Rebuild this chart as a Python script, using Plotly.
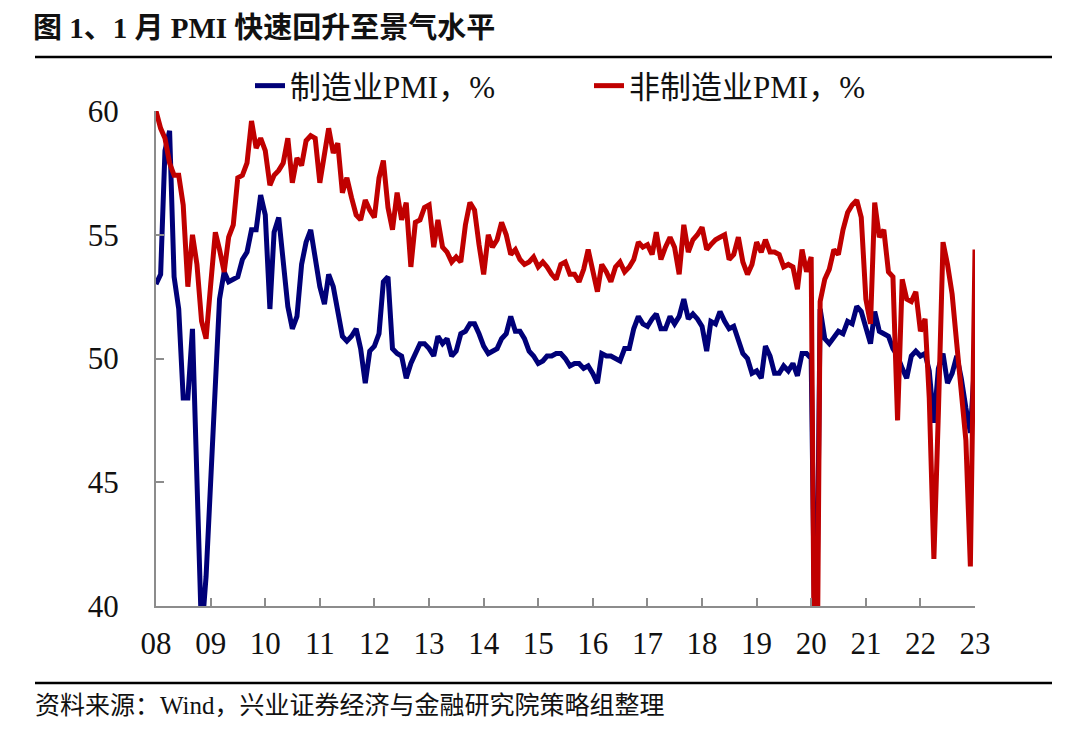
import pandas as pd
import plotly.graph_objects as go

# Monthly PMI values, Jan 2008 - Jan 2023
mfg_pmi = [
    53.0, 53.4, 58.4, 59.2, 53.3, 52.0, 48.4, 48.4, 51.2, 44.6, 38.8, 41.2,   # 2008
    45.3, 49.0, 52.4, 53.5, 53.1, 53.2, 53.3, 54.0, 54.3, 55.2, 55.2, 56.6,   # 2009
    55.8, 52.0, 55.1, 55.7, 53.9, 52.1, 51.2, 51.7, 53.8, 54.7, 55.2, 53.9,   # 2010
    52.9, 52.2, 53.4, 52.9, 52.0, 50.9, 50.7, 50.9, 51.2, 50.4, 49.0, 50.3,   # 2011
    50.5, 51.0, 53.1, 53.3, 50.4, 50.2, 50.1, 49.2, 49.8, 50.2, 50.6, 50.6,   # 2012
    50.4, 50.1, 50.9, 50.6, 50.8, 50.1, 50.3, 51.0, 51.1, 51.4, 51.4, 51.0,   # 2013
    50.5, 50.2, 50.3, 50.4, 50.8, 51.0, 51.7, 51.1, 51.1, 50.8, 50.3, 50.1,   # 2014
    49.8, 49.9, 50.1, 50.1, 50.2, 50.2, 50.0, 49.7, 49.8, 49.8, 49.6, 49.7,   # 2015
    49.4, 49.0, 50.2, 50.1, 50.1, 50.0, 49.9, 50.4, 50.4, 51.2, 51.7, 51.4,   # 2016
    51.3, 51.6, 51.8, 51.2, 51.2, 51.7, 51.4, 51.7, 52.4, 51.6, 51.8, 51.6,   # 2017
    51.3, 50.3, 51.5, 51.4, 51.9, 51.5, 51.2, 51.3, 50.8, 50.2, 50.0, 49.4,   # 2018
    49.5, 49.2, 50.5, 50.1, 49.4, 49.4, 49.7, 49.5, 49.8, 49.3, 50.2, 50.2,   # 2019
    50.0, 35.7, 52.0, 50.8, 50.6, 50.9, 51.1, 51.0, 51.5, 51.4, 52.1, 51.9,   # 2020
    51.3, 50.6, 51.9, 51.1, 51.0, 50.9, 50.4, 50.1, 49.6, 49.2, 50.1, 50.3,   # 2021
    50.1, 50.2, 49.5, 47.4, 49.6, 50.2, 49.0, 49.4, 50.1, 49.2, 48.0, 47.0,   # 2022
    50.1,                                                                     # 2023
]

non_mfg_pmi = [
    60.0, 59.3, 58.9, 57.9, 57.4, 57.4, 56.2, 52.9, 55.0, 53.8, 51.5, 50.8,   # 2008
    53.0, 55.1, 54.4, 53.5, 54.9, 55.4, 57.3, 57.4, 57.9, 59.6, 58.5, 58.9,   # 2009
    58.4, 57.0, 57.4, 57.6, 57.9, 58.9, 57.1, 58.1, 57.8, 58.8, 59.0, 58.9,   # 2010
    57.1, 58.2, 59.3, 58.3, 58.7, 56.7, 57.3, 56.5, 55.8, 55.6, 56.4, 56.0,   # 2011
    55.7, 57.3, 58.0, 56.1, 55.2, 56.7, 55.6, 56.3, 53.7, 55.5, 55.6, 56.1,   # 2012
    56.2, 54.5, 55.6, 54.5, 54.3, 53.9, 54.1, 53.9, 55.4, 56.3, 56.0, 54.6,   # 2013
    53.4, 55.0, 54.5, 54.8, 55.5, 55.0, 54.2, 54.4, 54.0, 53.8, 53.9, 54.1,   # 2014
    53.7, 53.9, 53.7, 53.4, 53.2, 53.8, 53.9, 53.4, 53.4, 53.1, 53.6, 54.4,   # 2015
    53.5, 52.7, 53.8, 53.5, 53.1, 53.7, 53.9, 53.5, 53.7, 54.0, 54.7, 54.5,   # 2016
    54.6, 54.2, 55.1, 54.0, 54.5, 54.9, 54.5, 53.4, 55.4, 54.3, 54.8, 55.0,   # 2017
    55.3, 54.4, 54.6, 54.8, 54.9, 55.0, 54.0, 54.2, 54.9, 53.9, 53.4, 53.8,   # 2018
    54.7, 54.3, 54.8, 54.3, 54.3, 54.2, 53.7, 53.8, 53.7, 52.8, 54.4, 53.5,   # 2019
    54.1, 29.6, 52.3, 53.2, 53.6, 54.4, 54.2, 55.2, 55.9, 56.2, 56.4, 55.7,   # 2020
    52.4, 51.4, 56.3, 54.9, 55.2, 53.5, 53.3, 47.5, 53.2, 52.4, 52.3, 52.7,   # 2021
    51.1, 51.6, 48.4, 41.9, 47.8, 54.7, 53.8, 52.6, 50.6, 48.7, 46.7, 41.6,   # 2022
    54.4,                                                                     # 2023
]

months = pd.date_range("2008-01-01", periods=len(mfg_pmi), freq="MS")
tick_years = list(range(2008, 2024))
tick_labels = [f"{y % 100:02d}" for y in tick_years]
y_ticks = [40, 45, 50, 55, 60]

series_names = ["制造业PMI，%", "非制造业PMI，%"]
colors = ["#000078", "#C00000"]

SERIF = "Liberation Serif, Noto Sans CJK SC, serif"

# The page body adds an 8px offset, so the figure is 8px smaller and all
# page coordinates are shifted by 8px.
OFF = 8
W, H = 1080 - OFF, 733 - OFF
L, R, T, B = 156 - OFF, 975 - OFF, 111 - OFF, 606 - OFF
PW, PH = R - L, B - T


def px_x(x):
    return (x - OFF - L) / PW


def px_y(y):
    return (B - (y - OFF)) / PH


fig = go.Figure()
for name, vals, col in zip(series_names, [mfg_pmi, non_mfg_pmi], colors):
    fig.add_trace(go.Scatter(
        x=months, y=vals, mode="lines", name=name,
        line=dict(color=col, width=5),
    ))

fig.update_layout(
    width=W, height=H,
    paper_bgcolor="white", plot_bgcolor="white",
    margin=dict(l=L, r=W - R, t=T, b=H - B, autoexpand=False),
    font=dict(family=SERIF, size=28, color="#111111"),
    showlegend=True,
    legend=dict(
        orientation="h", x=px_x(250), y=1 - (86 - OFF) / H,
        xanchor="left", yanchor="middle", yref="container",
        font=dict(family=SERIF, size=31, color="#111111"),
        bgcolor="rgba(0,0,0,0)", entrywidth=294, entrywidthmode="pixels",
        itemsizing="constant",
    ),
    title=dict(
        text="<b>图 1、1 月 PMI 快速回升至景气水平</b>",
        x=(33 - OFF) / W, xanchor="left", xref="container",
        y=1 - (28 - OFF) / H, yanchor="middle", yref="container",
        font=dict(family=SERIF, size=29, color="#111111"),
        automargin=False,
    ),
)

fig.update_xaxes(
    type="date",
    range=[months[0], months[-1]],
    tickvals=[pd.Timestamp(f"{y}-01-01") for y in tick_years],
    ticktext=tick_labels,
    ticks="inside", ticklen=8, tickwidth=2, tickcolor="#8c8c8c",
    showline=True, linecolor="#8c8c8c", linewidth=2,
    showgrid=False, zeroline=False,
    tickfont=dict(family=SERIF, size=31, color="#111111"),
    ticklabelstandoff=9,
)
fig.update_yaxes(
    range=[40, 60],
    tickvals=y_ticks,
    ticktext=[str(v) for v in y_ticks],
    ticks="inside", ticklen=8, tickwidth=2, tickcolor="#8c8c8c",
    showline=True, linecolor="#8c8c8c", linewidth=2,
    showgrid=False, zeroline=False,
    tickfont=dict(family=SERIF, size=31, color="#111111"),
    ticklabelstandoff=29,
)

# Header and footer rules
for ypix in (57, 683):
    fig.add_shape(type="line", xref="paper", yref="paper",
                  x0=px_x(35), x1=px_x(1052), y0=px_y(ypix), y1=px_y(ypix),
                  line=dict(color="black", width=2.5))

fig.add_annotation(
    text="资料来源：Wind，兴业证券经济与金融研究院策略组整理",
    xref="paper", yref="paper",
    x=px_x(33), y=px_y(705),
    xanchor="left", yanchor="middle", showarrow=False,
    font=dict(family=SERIF, size=25, color="#111111"),
)

fig.write_html("out.html")
